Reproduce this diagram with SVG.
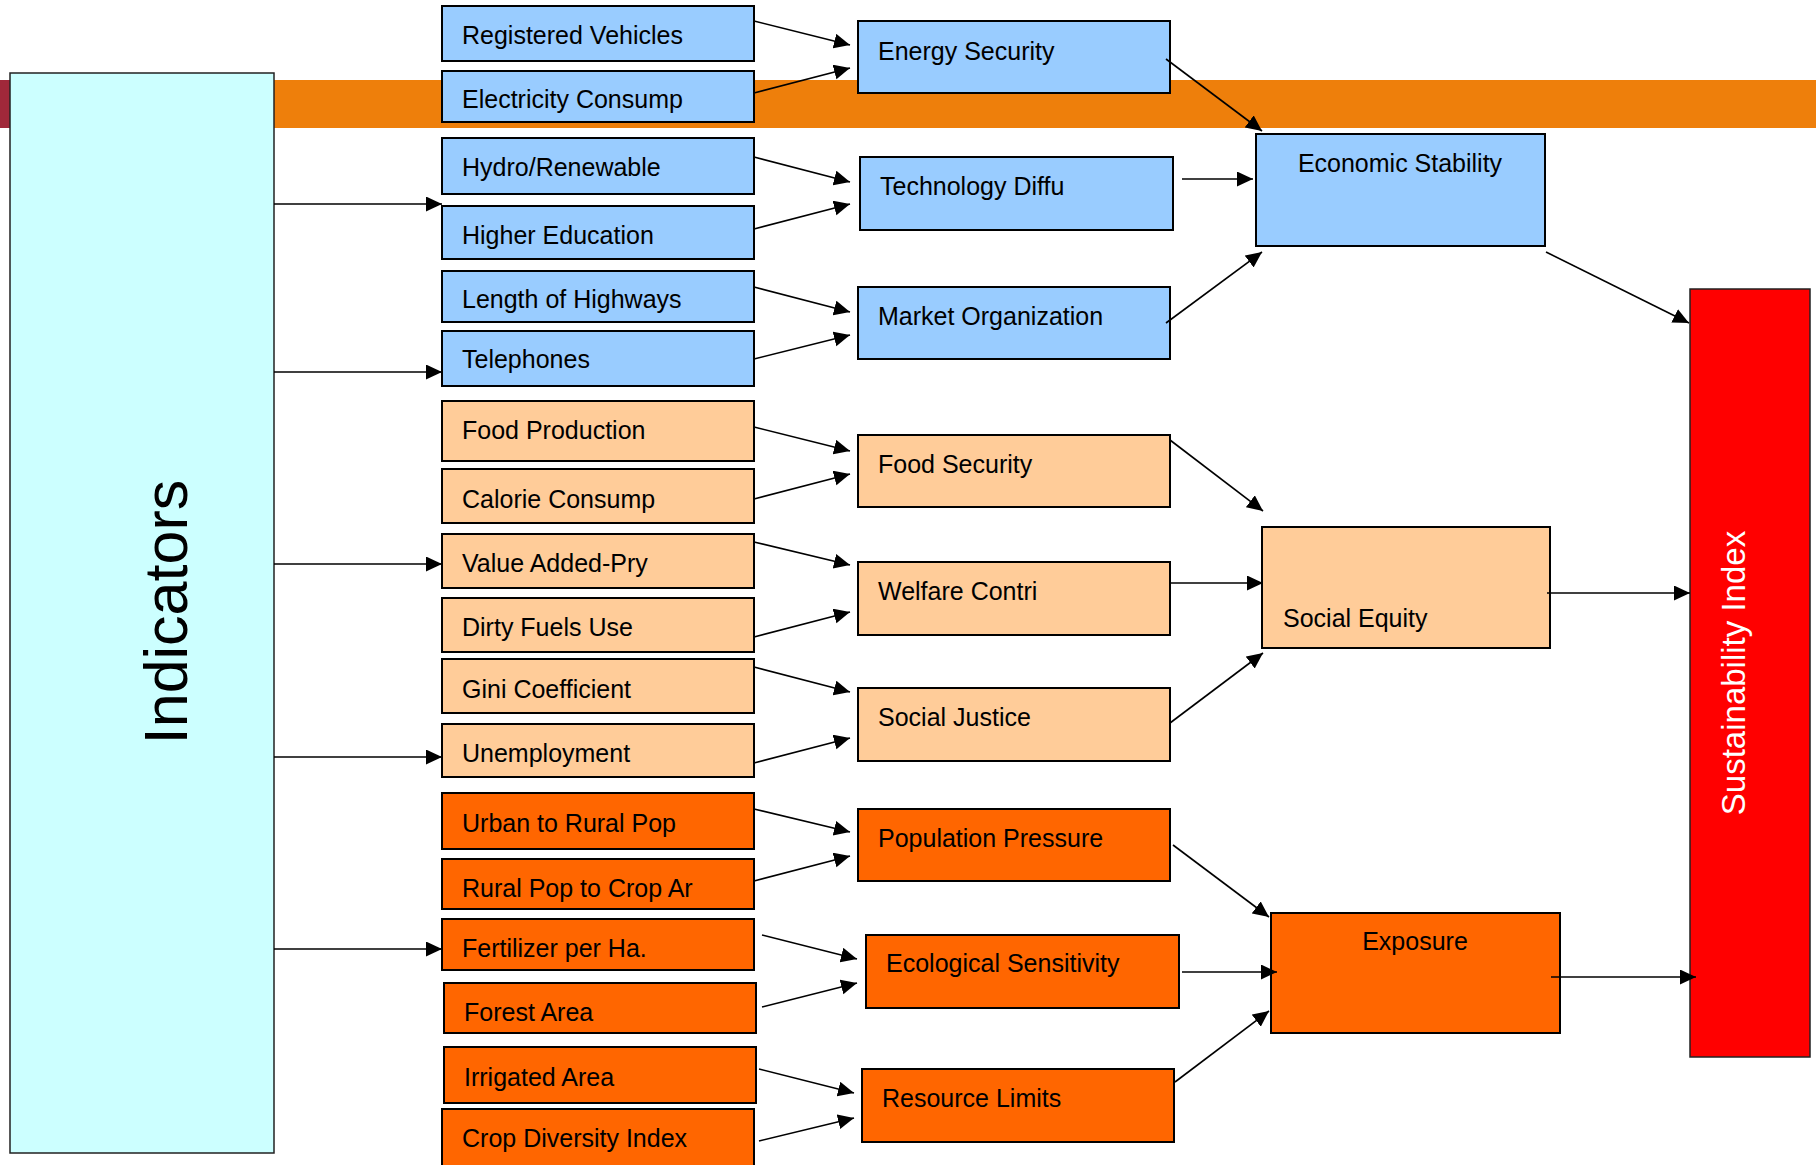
<svg xmlns="http://www.w3.org/2000/svg" width="1816" height="1165" viewBox="0 0 1816 1165">
<defs>
<marker id="ah" markerUnits="userSpaceOnUse" markerWidth="18" markerHeight="16" refX="16" refY="7.5" orient="auto">
<path d="M0,0 L16,7.5 L0,15 z" fill="#000"/>
</marker>
<style>
.b{stroke:#000;stroke-width:2}
.blue{fill:#99CCFF}
.peach{fill:#FFCC99}
.orng{fill:#FF6600}
.t{font-family:"Liberation Sans",Arial,sans-serif;font-size:25px;fill:#000}
.c{stroke:#000;stroke-width:1.6;fill:none;marker-end:url(#ah)}
</style>
</defs>
<rect width="1816" height="1165" fill="#fff"/>
<rect x="0" y="80" width="1816" height="48" fill="#EE7F0B"/>
<rect x="0" y="80" width="10" height="48" fill="#A0283A"/>

<g id="indicators">
<rect x="10" y="73" width="264" height="1080" fill="#CCFFFF" stroke="#222" stroke-width="1.5"/>
<text x="0" y="0" transform="translate(187,612) rotate(-90)" text-anchor="middle" font-family="Liberation Sans,Arial,sans-serif" font-size="61" fill="#000">Indicators</text>
</g>

<g id="n-registered-vehicles"><rect class="b blue" x="442" y="6" width="312" height="55"/><text class="t" x="462" y="44">Registered Vehicles</text></g>
<g id="n-electricity-consump"><rect class="b blue" x="442" y="71" width="312" height="51"/><text class="t" x="462" y="108">Electricity Consump</text></g>
<g id="n-hydro-renewable"><rect class="b blue" x="442" y="138" width="312" height="56"/><text class="t" x="462" y="176">Hydro/Renewable</text></g>
<g id="n-higher-education"><rect class="b blue" x="442" y="206" width="312" height="53"/><text class="t" x="462" y="244">Higher Education</text></g>
<g id="n-length-highways"><rect class="b blue" x="442" y="271" width="312" height="51"/><text class="t" x="462" y="308">Length of Highways</text></g>
<g id="n-telephones"><rect class="b blue" x="442" y="331" width="312" height="55"/><text class="t" x="462" y="368">Telephones</text></g>

<g id="n-food-production"><rect class="b peach" x="442" y="401" width="312" height="60"/><text class="t" x="462" y="439">Food Production</text></g>
<g id="n-calorie-consump"><rect class="b peach" x="442" y="469" width="312" height="54"/><text class="t" x="462" y="508">Calorie Consump</text></g>
<g id="n-value-added"><rect class="b peach" x="442" y="534" width="312" height="54"/><text class="t" x="462" y="572">Value Added-Pry</text></g>
<g id="n-dirty-fuels"><rect class="b peach" x="442" y="598" width="312" height="54"/><text class="t" x="462" y="636">Dirty Fuels Use</text></g>
<g id="n-gini"><rect class="b peach" x="442" y="659" width="312" height="54"/><text class="t" x="462" y="698">Gini Coefficient</text></g>
<g id="n-unemployment"><rect class="b peach" x="442" y="724" width="312" height="53"/><text class="t" x="462" y="762">Unemployment</text></g>

<g id="n-urban-rural"><rect class="b orng" x="442" y="793" width="312" height="56"/><text class="t" x="462" y="832">Urban to Rural Pop</text></g>
<g id="n-rural-crop"><rect class="b orng" x="442" y="859" width="312" height="50"/><text class="t" x="462" y="897">Rural Pop to Crop Ar</text></g>
<g id="n-fertilizer"><rect class="b orng" x="442" y="919" width="312" height="51"/><text class="t" x="462" y="957">Fertilizer per Ha.</text></g>
<g id="n-forest"><rect class="b orng" x="444" y="983" width="312" height="50"/><text class="t" x="464" y="1021">Forest Area</text></g>
<g id="n-irrigated"><rect class="b orng" x="444" y="1047" width="312" height="56"/><text class="t" x="464" y="1086">Irrigated Area</text></g>
<g id="n-crop-diversity"><rect class="b orng" x="442" y="1109" width="312" height="70"/><text class="t" x="462" y="1147">Crop Diversity Index</text></g>

<g id="n-energy-security"><rect class="b blue" x="858" y="21" width="312" height="72"/><text class="t" x="878" y="60">Energy Security</text></g>
<g id="n-technology-diffu"><rect class="b blue" x="860" y="157" width="313" height="73"/><text class="t" x="880" y="195">Technology Diffu</text></g>
<g id="n-market-organization"><rect class="b blue" x="858" y="287" width="312" height="72"/><text class="t" x="878" y="325">Market Organization</text></g>
<g id="n-food-security"><rect class="b peach" x="858" y="435" width="312" height="72"/><text class="t" x="878" y="473">Food Security</text></g>
<g id="n-welfare-contri"><rect class="b peach" x="858" y="562" width="312" height="73"/><text class="t" x="878" y="600">Welfare Contri</text></g>
<g id="n-social-justice"><rect class="b peach" x="858" y="688" width="312" height="73"/><text class="t" x="878" y="726">Social Justice</text></g>
<g id="n-population-pressure"><rect class="b orng" x="858" y="809" width="312" height="72"/><text class="t" x="878" y="847">Population Pressure</text></g>
<g id="n-ecological-sensitivity"><rect class="b orng" x="866" y="935" width="313" height="73"/><text class="t" x="886" y="972">Ecological Sensitivity</text></g>
<g id="n-resource-limits"><rect class="b orng" x="862" y="1069" width="312" height="73"/><text class="t" x="882" y="1107">Resource Limits</text></g>

<g id="n-economic-stability"><rect class="b blue" x="1256" y="134" width="289" height="112"/><text class="t" x="1400" y="172" text-anchor="middle">Economic Stability</text></g>
<g id="n-social-equity"><rect class="b peach" x="1262" y="527" width="288" height="121"/><text class="t" x="1283" y="627">Social Equity</text></g>
<g id="n-exposure"><rect class="b orng" x="1271" y="913" width="289" height="120"/><text class="t" x="1415" y="950" text-anchor="middle">Exposure</text></g>

<g id="n-sustainability-index">
<rect x="1690" y="289" width="120" height="768" fill="#FF0000" stroke="#222" stroke-width="1.5"/>
<text x="0" y="0" transform="translate(1745,673) rotate(-90)" text-anchor="middle" font-family="Liberation Sans,Arial,sans-serif" font-size="33" fill="#fff">Sustainability Index</text>
</g>

<g id="connectors">
<path class="c" stroke-width="2" d="M274,204 H442"/>
<path class="c" stroke-width="2" d="M274,372 H442"/>
<path class="c" stroke-width="2" d="M274,564 H442"/>
<path class="c" stroke-width="2" d="M274,757 H442"/>
<path class="c" stroke-width="2" d="M274,949 H442"/>

<path class="c" d="M754,21 L850,45"/>
<path class="c" d="M754,93 L850,68"/>
<path class="c" d="M754,157 L850,182"/>
<path class="c" d="M754,229 L850,204"/>
<path class="c" d="M754,287 L850,312"/>
<path class="c" d="M754,359 L850,335"/>
<path class="c" d="M754,427 L850,451"/>
<path class="c" d="M754,499 L850,474"/>
<path class="c" d="M754,542 L850,565"/>
<path class="c" d="M754,637 L850,612"/>
<path class="c" d="M754,667 L850,692"/>
<path class="c" d="M754,763 L850,738"/>
<path class="c" d="M754,809 L850,832"/>
<path class="c" d="M754,881 L850,856"/>
<path class="c" d="M762,935 L857,959"/>
<path class="c" d="M762,1007 L857,983"/>
<path class="c" d="M759,1069 L854,1093"/>
<path class="c" d="M759,1141 L854,1118"/>

<path class="c" d="M1166,59 L1262,131"/>
<path class="c" d="M1182,179 L1253,179"/>
<path class="c" d="M1166,323 L1262,252"/>
<path class="c" d="M1546,252 L1689,323"/>
<path class="c" d="M1170,440 L1263,511"/>
<path class="c" d="M1170,583 L1263,583"/>
<path class="c" d="M1170,723 L1263,653"/>
<path class="c" d="M1547,593 L1690,593"/>
<path class="c" d="M1173,845 L1269,917"/>
<path class="c" d="M1182,972 L1277,972"/>
<path class="c" d="M1175,1082 L1269,1011"/>
<path class="c" d="M1551,977 L1696,977"/>
</g>
</svg>
